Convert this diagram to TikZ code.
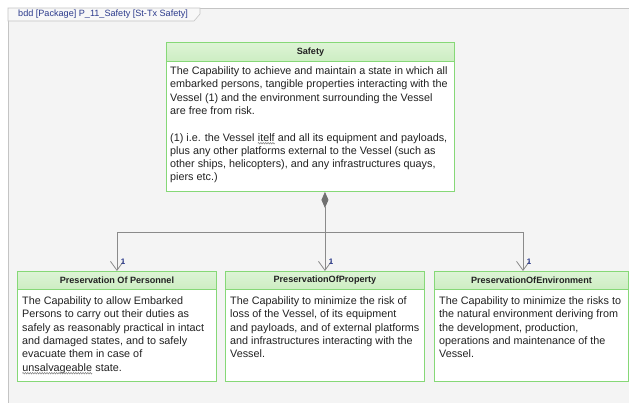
\documentclass[tikz,border=0pt]{standalone}
\usepackage{fontspec}
\setmainfont{Liberation Sans}
\usetikzlibrary{arrows.meta,decorations.pathmorphing}
\definecolor{bggray}{HTML}{F4F4F4}
\definecolor{framegray}{HTML}{C4C4C4}
\definecolor{boxgreen}{HTML}{86D877}
\definecolor{hdtop}{HTML}{E6F7E0}
\definecolor{hdbot}{HTML}{C4EAB8}
\definecolor{bodybot}{HTML}{E4E4E4}
\definecolor{linkgray}{HTML}{8A8A8A}
\definecolor{diamgray}{HTML}{707070}
\definecolor{navy}{HTML}{2B3A8C}
\definecolor{txt}{HTML}{222222}
\pgfdeclareverticalshading{bodyshade}{100bp}{color(0bp)=(bodybot); color(12bp)=(white); color(100bp)=(white)}
\pgfdeclareverticalshading{headshade}{100bp}{color(0bp)=(hdbot); color(100bp)=(hdtop)}
\newcommand\squigword[2]{\tikz[baseline=(#1.base)]{\node[inner sep=0pt, outer sep=0pt] (#1) {#2};
  \draw[squiggle] ([yshift=-2.2pt]#1.base west) -- ([yshift=-2.2pt]#1.base east);}}
\begin{document}
\begin{tikzpicture}[x=1pt,y=-1pt,
  block/.style={draw=boxgreen, line width=0.9pt, shading=bodyshade, anchor=north west, inner sep=0pt, minimum height=110pt},
  head/.style={draw=boxgreen, line width=0.9pt, shading=headshade, anchor=north west, inner sep=0pt, minimum height=18pt,
     font=\fontsize{9.1}{10}\selectfont\bfseries, text=txt},
  body/.style={anchor=north west, inner sep=0pt, align=left, text=txt, font=\fontsize{10.8}{13.3}\selectfont},
  link/.style={draw=linkgray, line width=0.8pt},
  squiggle/.style={draw=gray, line width=0.5pt, decorate, decoration={zigzag, amplitude=0.8pt, segment length=2.4pt}},
  mult/.style={text=navy, font=\fontsize{8}{9}\selectfont\bfseries, inner sep=0pt}]
\useasboundingbox (0,0) rectangle (629,402);
% frame
\fill[white] (0,0) rectangle (629,402);
\path[fill=bggray, draw=framegray, line width=0.6pt] (8,8) rectangle (640,410);
\path[draw=framegray, fill=white!40!bggray, line width=0.6pt] (8,8) -- (200,8) -- (200,14) -- (194,21) -- (8,21) -- cycle;
\node[anchor=west, inner sep=0pt, text=navy, font=\fontsize{9.1}{10}\selectfont] (tab) at (18,14.5) {bdd [Package] P\_11\_Safety [St-Tx Safety]};

% Safety block
\node[block, minimum width=288pt, minimum height=149pt] (safety) at (166,42) {};
\node[head, minimum width=288pt, minimum height=19pt] (safetyhd) at (166,42) {Safety};
\node[body] (safetytx) at (170,66.5) {The Capability to achieve and maintain a state in which all\\
embarked persons, tangible properties interacting with the\\
Vessel (1) and the environment surrounding the Vessel\\
are free from risk.\\[13.3pt]
(1) i.e. the Vessel \squigword{sqa}{itelf} and all its equipment and payloads,\\
plus any other platforms external to the Vessel (such as\\
other ships, helicopters), and any infrastructures quays,\\
piers etc.)};

% child blocks
\node[block, minimum width=199pt] (pers) at (17,271) {};
\node[head, minimum width=199pt] (pershd) at (17,271) {Preservation Of Personnel};
\node[body] (perstx) at (22,296.5) {The Capability to allow Embarked\\
Persons to carry out their duties as\\
safely as reasonably practical in intact\\
and damaged states, and to safely\\
evacuate them in case of\\
\squigword{sqb}{unsalvageable} state.};

\node[block, minimum width=199pt] (prop) at (225,271) {};
\node[head, minimum width=199pt] (prophd) at (225,271) {PreservationOfProperty};
\node[body] (proptx) at (230,296.5) {The Capability to minimize the risk of\\
loss of the Vessel, of its equipment\\
and payloads, and of external platforms\\
and infrastructures interacting with the\\
Vessel.};

\node[block, minimum width=194pt] (env) at (434,271) {};
\node[head, minimum width=194pt] (envhd) at (434,271) {PreservationOfEnvironment};
\node[body] (envtx) at (439,296.5) {The Capability to minimize the risks to\\
the natural environment deriving from\\
the development, production,\\
operations and maintenance of the\\
Vessel.};

% connectors
\coordinate (junc) at (325,232);
\coordinate (envtop) at (523,271);
\draw[link, {Diamond[length=16pt,width=7pt,fill=diamgray,color=diamgray]}-{Straight Barb[length=9pt,width=13pt]}] (safety.south -| prop.north) -- (prop.north);
\draw[link, -{Straight Barb[length=9pt,width=13pt]}] (junc) -| (pers.north);
\draw[link, -{Straight Barb[length=9pt,width=13pt]}] (junc) -| (envtop);
\node[mult] (m1) at (123,262) {1};
\node[mult] (m2) at (331,262) {1};
\node[mult] (m3) at (529,262) {1};
\end{tikzpicture}
\end{document}
